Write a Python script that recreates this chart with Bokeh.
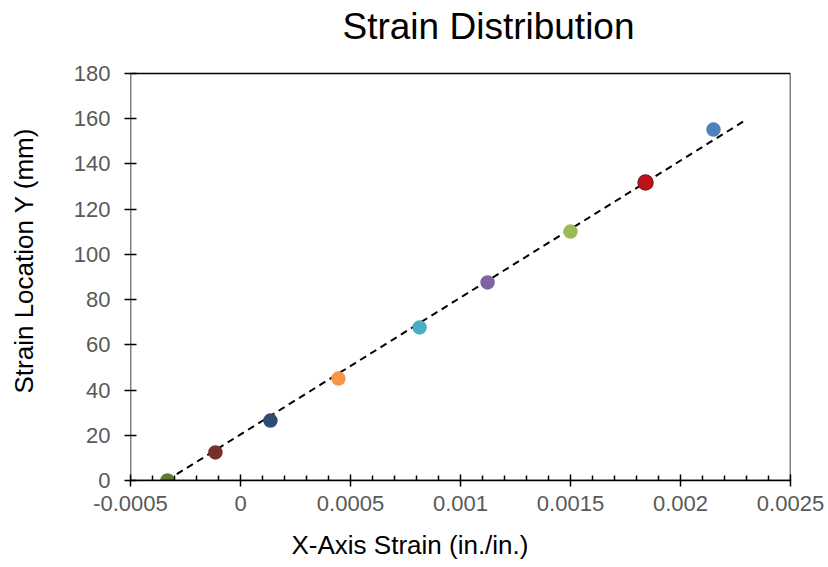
from bokeh.plotting import figure
from bokeh.models import (Range1d, FixedTicker, Label, LinearAxis, BoxAnnotation,
                          Title, ColumnDataSource)
from bokeh.embed import file_html
from bokeh.resources import INLINE

# ---- data ----
strain_x = [-0.000332, -0.000114, 0.000136, 0.000445, 0.000814, 0.001123, 0.0015, 0.001841, 0.00215]
location_y = [0.0, 12.4, 26.5, 45.1, 67.7, 87.6, 110.1, 131.8, 155.2]
point_colors = ["#617A30", "#7A2E2B", "#2C4D75", "#F79646", "#4BACC6", "#8064A2", "#9BBB59", "#C0101A", "#4F81BD"]
point_lines = ["#617A30", "#7A2E2B", "#2C4D75", "#F79646", "#4BACC6", "#8064A2", "#9BBB59", "#8B1A1F", "#4F81BD"]
point_sizes = [13, 13, 13, 13, 13, 13, 13, 15, 13]

trend_x = [-0.000336, 0.002286]
trend_y = [0.0, 158.8]

x_ticks = [-0.0005, 0.0, 0.0005, 0.001, 0.0015, 0.002, 0.0025]
x_tick_labels = ["-0.0005", "0", "0.0005", "0.001", "0.0015", "0.002", "0.0025"]
x_minor = [-0.0004, -0.0003, -0.0002, -0.0001, 0.0001, 0.0002, 0.0003, 0.0004,
           0.0006, 0.0007, 0.0008, 0.0009, 0.0011, 0.0012, 0.0013, 0.0014,
           0.0016, 0.0017, 0.0018, 0.0019, 0.0021, 0.0022, 0.0023, 0.0024]
y_ticks = [0, 20, 40, 60, 80, 100, 120, 140, 160, 180]

title_text = "Strain Distribution"
x_title = "X-Axis Strain (in./in.)"
y_title = "Strain Location Y (mm)"

X_MIN, X_MAX = -0.0005, 0.0025
Y_MIN, Y_MAX = 0, 180

FONT = "Liberation Sans"

# the frame reaches the top of the canvas so the chart title can sit inside it
p = figure(width=828, height=567, output_backend="svg", toolbar_location=None,
           x_range=Range1d(X_MIN, X_MAX), y_range=Range1d(Y_MIN, 212.3),
           min_border_left=130, min_border_right=38, min_border_top=0, min_border_bottom=87)

p.background_fill_color = "white"
p.border_fill_color = "white"
p.outline_line_color = None
p.xgrid.visible = False
p.ygrid.visible = False

# plot-area box
p.add_layout(BoxAnnotation(left=X_MIN, right=X_MAX, bottom=Y_MIN, top=Y_MAX,
                           fill_alpha=0, line_color="black", line_alpha=1.0, line_width=1.5))

# x axis (ticks and tick labels)
xa = p.xaxis[0]
xa.ticker = FixedTicker(ticks=x_ticks, minor_ticks=x_minor)
xa.major_label_overrides = {t: l for t, l in zip(x_ticks, x_tick_labels)}
xa.axis_line_color = "black"
xa.axis_line_width = 1.5
xa.major_tick_line_color = "black"
xa.major_tick_line_width = 1.5
xa.major_tick_in = 6
xa.major_tick_out = 6
xa.minor_tick_line_color = "black"
xa.minor_tick_line_width = 1.5
xa.minor_tick_in = 5
xa.minor_tick_out = 0
xa.major_label_text_font = FONT
xa.major_label_text_font_size = "22px"
xa.major_label_text_color = "#595959"
xa.major_label_standoff = 9


def spacer_axis(gap, anchor):
    # an invisible axis whose only role is to take up `gap` pixels of the side panel
    return LinearAxis(ticker=FixedTicker(ticks=[anchor]), major_label_overrides={anchor: ""},
                      axis_line_color=None,
                      major_tick_line_color="white", minor_tick_line_color=None,
                      major_tick_in=0, major_tick_out=gap, minor_tick_in=0, minor_tick_out=0,
                      major_label_text_font_size="0px", major_label_standoff=0)


# y axis
ya = p.yaxis[0]
ya.ticker = FixedTicker(ticks=y_ticks)
ya.bounds = (Y_MIN, Y_MAX)
ya.axis_line_color = None
ya.major_tick_line_color = "black"
ya.major_tick_line_width = 1.5
ya.major_tick_in = 6
ya.major_tick_out = 6
ya.minor_tick_line_color = None
ya.major_label_text_font = FONT
ya.major_label_text_font_size = "22px"
ya.major_label_text_color = "#595959"
ya.major_label_standoff = 14

# spacers push the axis titles outward, the titles themselves are offset along the axes
p.add_layout(spacer_axis(14, X_MIN), "below")
p.add_layout(Title(text=x_title, text_font=FONT, text_font_size="26px",
                   text_font_style="normal", text_color="black", align="left", offset=161,
                   vertical_align="bottom", standoff=0), "below")
p.add_layout(spacer_axis(32, Y_MIN), "left")
p.add_layout(Title(text=y_title, text_font=FONT, text_font_size="26px",
                   text_font_style="normal", text_color="black", align="left", offset=87,
                   vertical_align="bottom", standoff=0), "left")

# chart title
p.add_layout(Label(x=212, y=454, x_units="screen", y_units="screen", text=title_text,
                   text_font=FONT, text_font_size="37px", text_color="black",
                   text_align="left", text_baseline="alphabetic"))

# trend line
p.line(trend_x, trend_y, line_color="black", line_width=2, line_dash="7 5")

# points
src = ColumnDataSource(dict(x=strain_x, y=location_y, c=point_colors, lc=point_lines, s=point_sizes))
p.scatter("x", "y", source=src, size="s", fill_color="c", line_color="lc", line_width=1.5)

open("out.html", "w").write(file_html(p, INLINE))
